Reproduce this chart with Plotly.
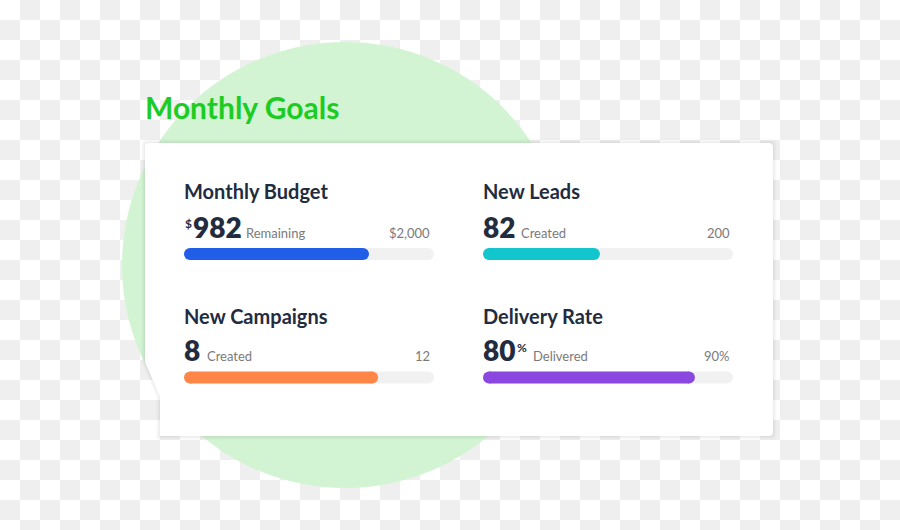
import plotly.graph_objects as go

# ---------------- data ----------------
titles = ["Monthly Budget", "New Leads", "New Campaigns", "Delivery Rate"]
values = [982, 82, 8, 80]
value_prefix = ["$", "", "", ""]
value_suffix = ["", "", "", "%"]
captions = ["Remaining", "Created", "Created", "Delivered"]
targets = ["$2,000", "200", "12", "90%"]
progress = [72.7, 44.1, 76.5, 84.0]   # filled share of each bar
heading = "Monthly Goals"

# ---------------- styles / layout constants ----------------
W, H = 900, 530
FONT = "Lato"
bar_colors = ["#215ee8", "#13c5cd", "#ff8646", "#8a48e0"]
track_color = "#f1f1f1"
dark = "#222c3e"
gray = "#7a7a7a"
green = "#1ccc24"
circle_color = "#d2f4d3"

col_x = [184, 483]            # left text edge of each column
head_base = [199, 324]        # heading baselines per row
num_base = [238.3, 361]       # big number baselines per row
bar_y = [254, 377.5]          # bar centre per row
num_x = [193, 483, 184, 483]
sup_x = [185, None, None, 517]
sup_base = [228, None, None, 352]
cap_x = [246, 521, 206.7, 533]
target_right = [429.5, 730, 429.5, 729.5]

fig = go.Figure()

# checkered (transparent) backdrop
sq = 20
parts = []
for r in range(H // sq + 1):
    for c in range(W // sq + 1):
        if (r + c) % 2 == 1:
            x0, y0 = c * sq, r * sq
            parts.append(f"M{x0},{y0}H{x0 + sq}V{y0 + sq}H{x0}Z")
fig.add_shape(type="path", path="".join(parts), xref="x", yref="y",
              fillcolor="#efefef", line_width=0, layer="below")

# green circle
cx, cy, rad = 345, 265, 223
fig.add_shape(type="circle", xref="x", yref="y", x0=cx - rad, x1=cx + rad,
              y0=cy - rad, y1=cy + rad, fillcolor=circle_color, line_width=0,
              layer="below")


def card_path(d):
    l, t, r, b, rr = 145 - d, 143 - d, 773 + d, 436 + d, 4
    return (f"M{l},{t + rr} Q{l},{t} {l + rr},{t} L{r - rr},{t} Q{r},{t} {r},{t + rr} "
            f"L{r},{b - rr} Q{r},{b} {r - rr},{b} L{160 - d},{b} L{160 - d},{397} "
            f"L{l},{362} Z")


for d, a in [(4, 0.012), (3, 0.015), (2, 0.02), (1, 0.025)]:
    fig.add_shape(type="path", path=card_path(d), xref="x", yref="y",
                  fillcolor=f"rgba(0,0,0,{a})", line_width=0, layer="below")
fig.add_shape(type="path", path=card_path(0), xref="x", yref="y",
              fillcolor="#ffffff", line_width=0, layer="below")

# progress bars
for i in range(4):
    col, row = i % 2, i // 2
    xa = "x2" if col == 0 else "x3"
    yc = bar_y[row]
    for xs, colr in [([0, 100], track_color), ([0, progress[i]], bar_colors[i])]:
        fig.add_trace(go.Scatter(
            x=xs, y=[yc, yc], xaxis=xa, yaxis="y2", mode="lines+markers",
            line=dict(color=colr, width=12),
            marker=dict(size=12, color=colr, line_width=0),
            cliponaxis=False, hoverinfo="skip", showlegend=False))

annotations = []


def ann(x, base, text, size, color, weight="normal", xanchor="left"):
    annotations.append(dict(
        x=x, y=base - 0.387 * size, xref="x", yref="y", text=text,
        showarrow=False, xanchor=xanchor, yanchor="middle", borderpad=0,
        font=dict(family=FONT, size=size, color=color, weight=weight)))


ann(144, 119, heading, 30, green, "bold")
for i in range(4):
    col, row = i % 2, i // 2
    ann(col_x[col] - 1, head_base[row], titles[i], 20, dark, "bold")
    ann(num_x[i] - 1, num_base[row], str(values[i]), 28, dark, 800)
    if value_prefix[i]:
        ann(sup_x[i] - 1, sup_base[i], value_prefix[i], 12, dark, "bold")
    if value_suffix[i]:
        ann(sup_x[i] - 1, sup_base[i], value_suffix[i], 12, dark, "bold")
    ann(cap_x[i] - 1, num_base[row], captions[i], 13, gray)
    ann(target_right[i] + 1, num_base[row], targets[i], 13, gray, xanchor="right")

fig.update_layout(
    width=W, height=H, margin=dict(l=0, r=0, t=0, b=0),
    paper_bgcolor="#ffffff", plot_bgcolor="rgba(0,0,0,0)",
    showlegend=False, annotations=annotations,
    xaxis=dict(range=[0, W], domain=[0, 1], visible=False, fixedrange=True),
    yaxis=dict(range=[H, 0], domain=[0, 1], visible=False, fixedrange=True),
    xaxis2=dict(range=[0, 100], domain=[190 / W, 428 / W], anchor="y2",
                visible=False, fixedrange=True),
    xaxis3=dict(range=[0, 100], domain=[489 / W, 727 / W], anchor="y2",
                visible=False, fixedrange=True),
    yaxis2=dict(range=[H, 0], domain=[0, 1], anchor="x2", visible=False,
                fixedrange=True),
)

fig.write_html("out.html")
